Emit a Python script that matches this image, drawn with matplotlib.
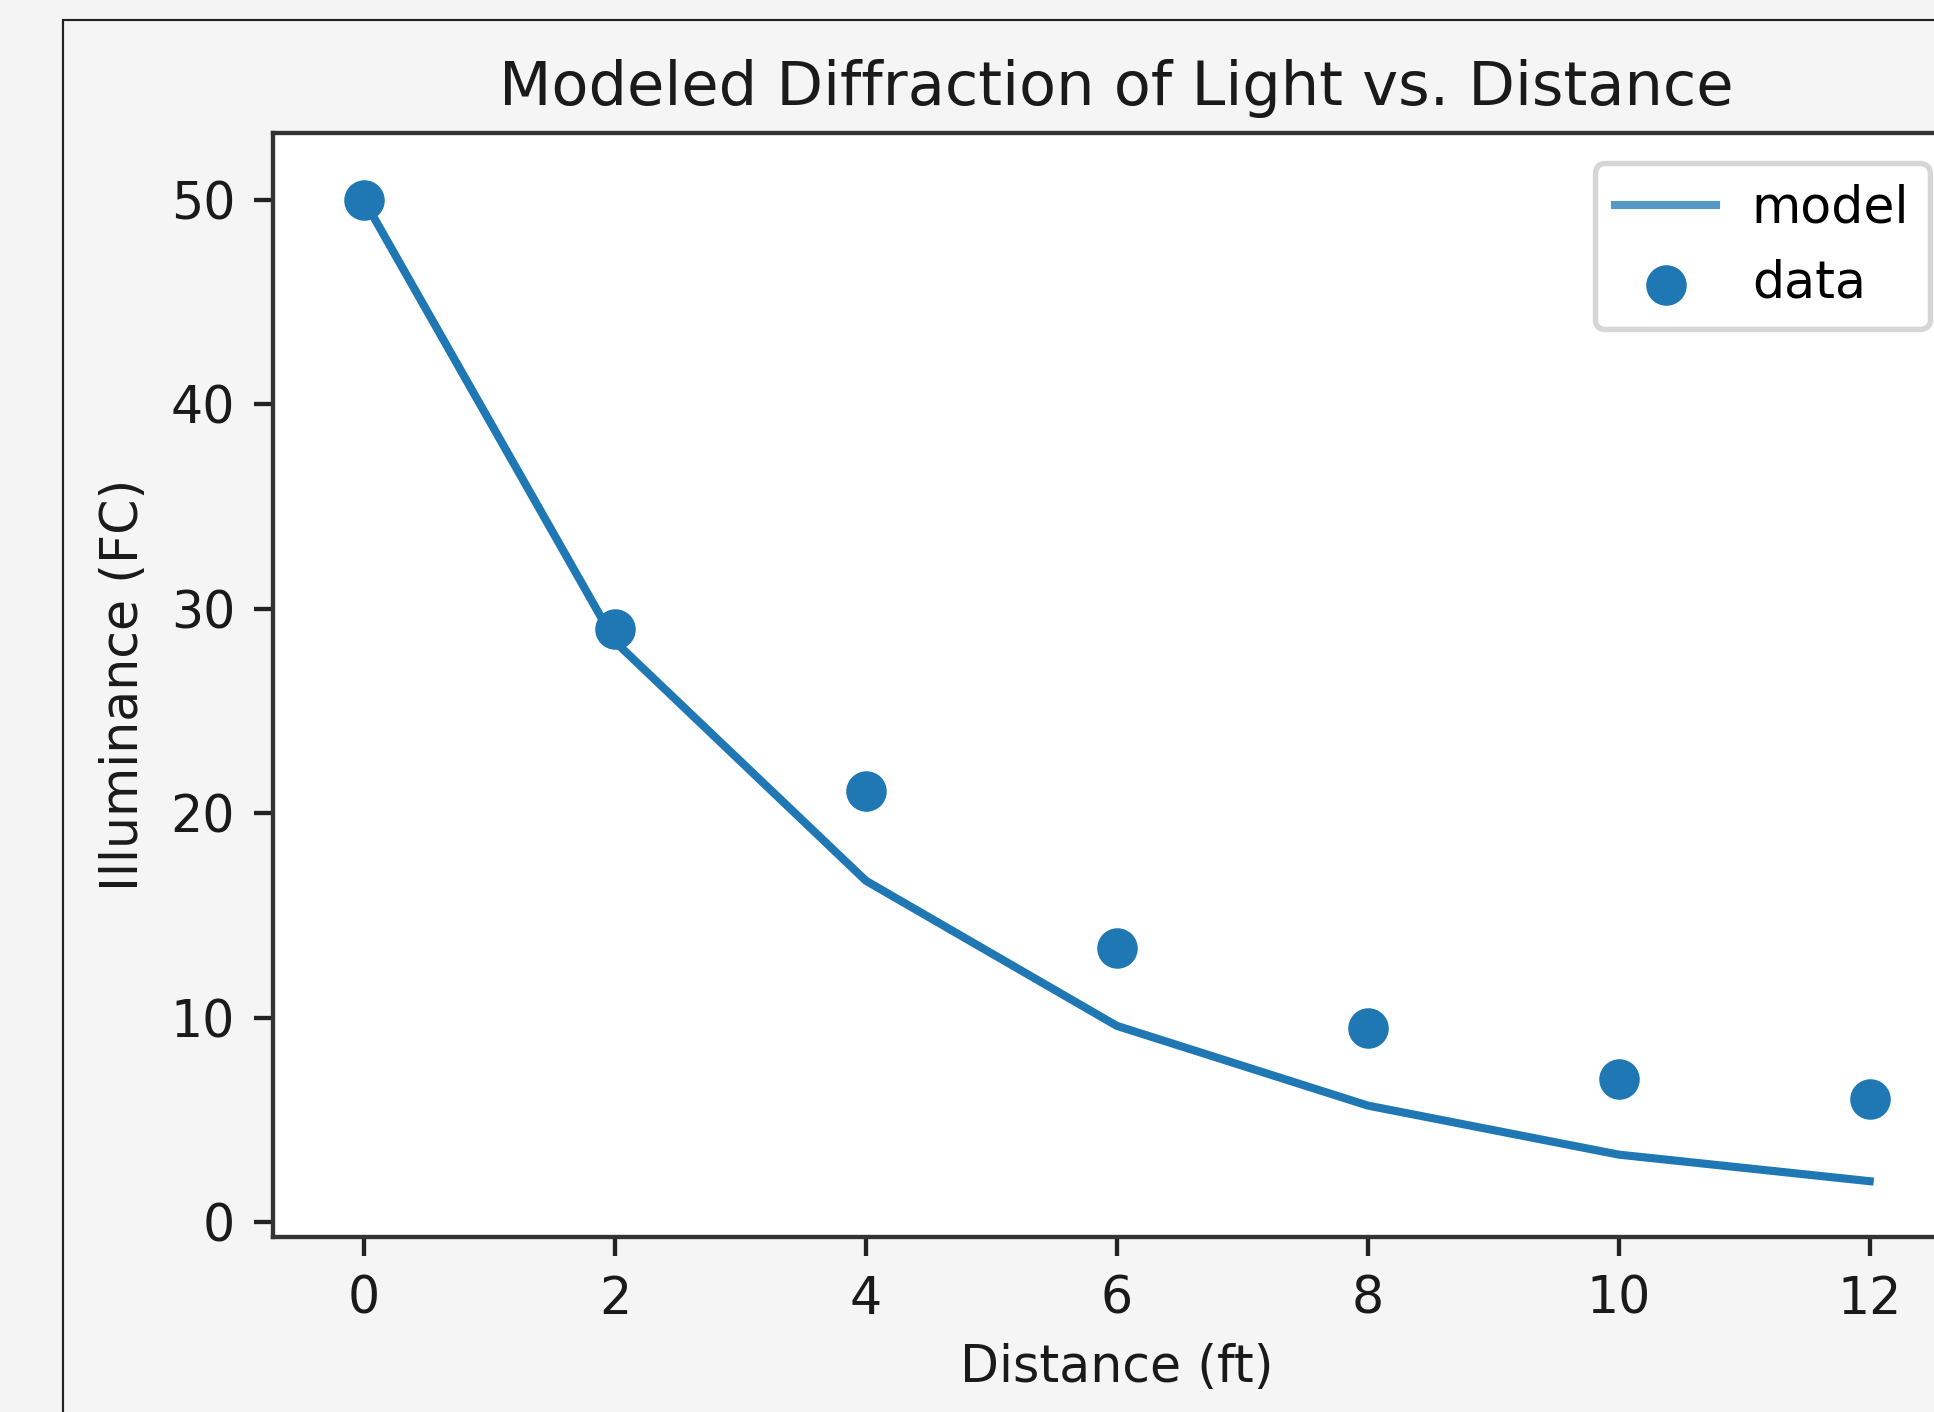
import matplotlib
matplotlib.use("Agg")
import matplotlib.pyplot as plt
from matplotlib.patches import Rectangle

# 数据
distance = [0, 2, 4, 6, 8, 10, 12]
measured = [50.0, 29.0, 21.1, 13.4, 9.5, 7.0, 6.0]
model = [50.0, 28.4, 16.7, 9.6, 5.7, 3.3, 2.0]

W, H = 1934, 1412
DPI = 390
FS = 9.35

fig = plt.figure(figsize=(W / DPI, H / DPI), dpi=DPI, facecolor="#f4f4f4")

# 外框（截图里的窗口边框，右下被裁掉）
frame = Rectangle((63 / W, -0.1), 2.0, (H - 20) / H + 0.1,
                  transform=fig.transFigure, facecolor="#f5f5f5",
                  edgecolor="#222222", linewidth=0.4, zorder=-10)
fig.patches.append(frame)

ax = fig.add_axes([273 / W, 1 - 1237 / H, (1960 - 273) / W, (1237 - 133) / H])
ax.set_zorder(1)
ax.set_facecolor("white")
for sp in ax.spines.values():
    sp.set_color("#333333")

ax.plot(distance, model, color="#1f77b4", label="model")
ax.scatter(distance, measured, color="#1f77b4", s=42, label="data", zorder=3)

ax.set_xlim(-0.725, 12.72)
ax.set_ylim(-0.73, 53.28)
ax.set_xticks([0, 2, 4, 6, 8, 10, 12])
ax.set_yticks([0, 10, 20, 30, 40, 50])
ax.tick_params(colors="#222222", labelcolor="#1a1a1a", labelsize=FS)

ax.set_title("Modeled Diffraction of Light vs. Distance", color="#1a1a1a",
             fontsize=11.2, pad=5.2)
ax.set_xlabel("Distance (ft)", color="#1a1a1a", fontsize=FS, labelpad=3.4)
ax.set_ylabel("Illuminance (FC)", color="#1a1a1a", fontsize=FS, labelpad=4.0)

leg = ax.legend(loc="upper right", fontsize=FS, handletextpad=0.7,
                borderaxespad=0.6)
leg.get_lines()[0].set_alpha(0.75)

fig.savefig("out.png", dpi=DPI, facecolor=fig.get_facecolor())
